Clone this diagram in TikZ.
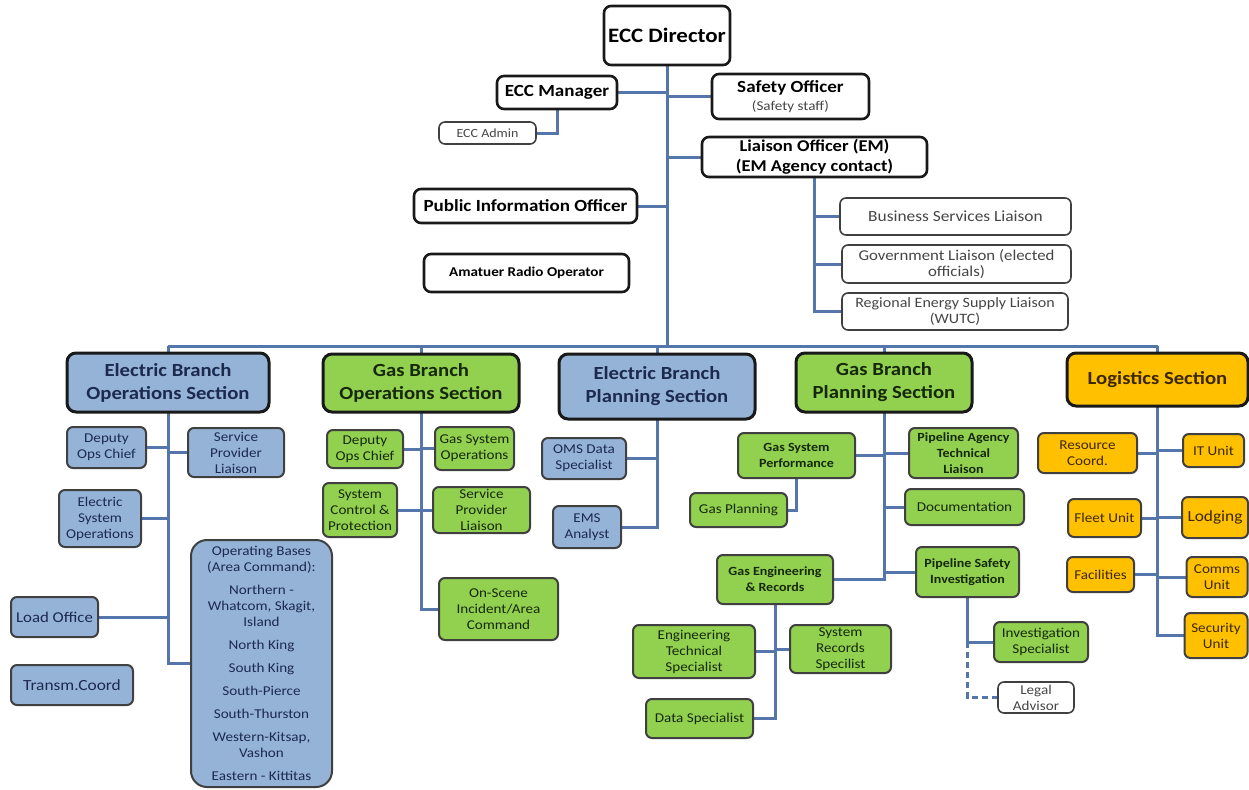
\documentclass[tikz,border=0pt]{standalone}
\usepackage{fontspec}
\setmainfont{Carlito}[FakeStretch=1.12]
\usetikzlibrary{backgrounds}
\definecolor{connc}{RGB}{84,118,170}
\definecolor{bluef}{RGB}{149,179,215}
\definecolor{greenf}{RGB}{146,208,80}
\definecolor{orangef}{RGB}{255,192,0}
\definecolor{bluet}{RGB}{28,42,78}
\definecolor{greent}{RGB}{22,40,10}
\definecolor{oranget}{RGB}{60,40,0}
\definecolor{grayt}{RGB}{70,70,70}
\newcommand{\myfs}[2]{\fontsize{#1}{#2}\selectfont}
\tikzset{
  conn/.style={draw=connc, line width=3},
  dashconn/.style={conn, dash pattern=on 6pt off 4pt},
  base/.style={align=center, inner sep=0pt, outer sep=0pt},
  topbox/.style={base, draw=black!90, line width=2.6, rounded corners=7, fill=white, text=black, font=\bfseries\myfs{17}{20}},
  lightbox/.style={base, draw=black!75, line width=1.6, rounded corners=6, fill=white, text=grayt, font=\myfs{14.5}{16}},
  secbox/.style={base, draw=black!90, line width=3, rounded corners=9, font=\bfseries\myfs{18.5}{23}},
  child/.style={base, draw=black!75, line width=2, rounded corners=6, font=\myfs{13.5}{16}},
  eblue/.style={fill=bluef, text=bluet},
  ggreen/.style={fill=greenf, text=greent},
  lorange/.style={fill=orangef, text=oranget},
  bchild/.style={child, font=\bfseries\myfs{12.5}{16}},
}
\begin{document}
\begin{tikzpicture}[x=1pt,y=-1pt]
\useasboundingbox (0,0) rectangle (1249,789);
% ---------- top level ----------
\node[topbox, minimum width=126, minimum height=59, font=\bfseries\myfs{20.5}{24}] (dir) at (667,35.5) {ECC Director};
\node[topbox, minimum width=120, minimum height=33] (mgr) at (557,92.5) {ECC Manager};
\node[lightbox, minimum width=97, minimum height=22, font=\myfs{12.5}{15}] (adm) at (487.5,133) {ECC Admin};
\node[topbox, minimum width=157, minimum height=45] (safety) at (790.5,96.5) {Safety Officer\\[-2pt]{\mdseries\color{grayt}\myfs{13.5}{15}(Safety staff)}};
\node[topbox, minimum width=225, minimum height=40, font=\bfseries\myfs{16.5}{20}] (liaison) at (814.5,157) {Liaison Officer (EM)\\(EM Agency contact)};
\node[topbox, minimum width=223, minimum height=34] (pio) at (525.5,206) {Public Information Officer};
\node[topbox, minimum width=205, minimum height=38, font=\bfseries\myfs{13.5}{16}] (ham) at (526.5,273) {Amatuer Radio Operator};
\node[lightbox, minimum width=231, minimum height=37, font=\myfs{15.5}{17}] (bsl) at (955.5,216.5) {Business Services Liaison};
\node[lightbox, minimum width=229, minimum height=38, font=\myfs{15}{16.5}] (gov) at (956.5,264) {Government Liaison (elected\\officials)};
\node[lightbox, minimum width=226, minimum height=37, font=\myfs{14.3}{16}] (reg) at (955,311.5) {Regional Energy Supply Liaison\\(WUTC)};
\coordinate (barL) at (168,346);
\coordinate (barR) at (1157.5,346);
% ---------- sections ----------
\node[secbox, eblue, minimum width=202, minimum height=59] (eops) at (168,382.5) {Electric Branch\\Operations Section};
\node[secbox, ggreen, minimum width=196, minimum height=58] (gops) at (421,383) {Gas Branch\\Operations Section};
\node[secbox, eblue, minimum width=196, minimum height=65] (eplan) at (657,386.5) {Electric Branch\\Planning Section};
\node[secbox, ggreen, minimum width=176, minimum height=59] (gplan) at (884,382.5) {Gas Branch\\Planning Section};
\node[secbox, lorange, minimum width=181, minimum height=53] (log) at (1157.5,379.5) {Logistics Section};
% ---------- electric operations ----------
\node[child, eblue, minimum width=79, minimum height=41] (edep) at (106.5,447.5) {Deputy\\Ops Chief};
\node[child, eblue, minimum width=96, minimum height=49] (espl) at (236,452.5) {Service\\Provider\\Liaison};
\node[child, eblue, minimum width=82, minimum height=57] (eso) at (100,518.5) {Electric\\System\\Operations};
\node[child, eblue, minimum width=141, minimum height=247, rounded corners=16] (ob) at (261.5,663.5) {Operating Bases\\(Area Command):\\[7pt]Northern -\\Whatcom, Skagit,\\Island\\[7pt]North King\\[7pt]South King\\[7pt]South-Pierce\\[7pt]South-Thurston\\[7pt]Western-Kitsap,\\Vashon\\[7pt]Eastern - Kittitas};
\node[child, eblue, minimum width=87, minimum height=40, font=\myfs{15}{17}] (load) at (54.5,617) {Load Office};
\node[child, eblue, minimum width=122, minimum height=40, font=\myfs{15.5}{18}] (trans) at (72,685) {Transm.Coord};
% ---------- gas operations ----------
\node[child, ggreen, minimum width=76, minimum height=38] (gdep) at (365,449) {Deputy\\Ops Chief};
\node[child, ggreen, minimum width=79, minimum height=43] (gso) at (474.5,448.5) {Gas System\\Operations};
\node[child, ggreen, minimum width=74, minimum height=54] (scp) at (360,510) {System\\Control \&\\Protection};
\node[child, ggreen, minimum width=97, minimum height=46] (gspl) at (481.5,510) {Service\\Provider\\Liaison};
\node[child, ggreen, minimum width=119, minimum height=62] (onscene) at (498.5,609) {On-Scene\\Incident/Area\\Command};
% ---------- electric planning ----------
\node[child, eblue, minimum width=84, minimum height=41] (oms) at (584,458.5) {OMS Data\\Specialist};
\node[child, eblue, minimum width=68, minimum height=42] (ems) at (587,527) {EMS\\Analyst};
% ---------- gas planning ----------
\node[bchild, ggreen, minimum width=117, minimum height=45] (gsp) at (796.5,455.5) {Gas System\\Performance};
\node[bchild, ggreen, minimum width=109, minimum height=50] (patl) at (963.5,453) {Pipeline Agency\\Technical\\Liaison};
\node[child, ggreen, minimum width=97, minimum height=34] (gpla) at (738.5,510) {Gas Planning};
\node[child, ggreen, minimum width=119, minimum height=36] (doc) at (964.5,507) {Documentation};
\node[bchild, ggreen, minimum width=116, minimum height=49] (ger) at (775,579.5) {Gas Engineering\\\& Records};
\node[bchild, ggreen, minimum width=103, minimum height=50] (psi) at (967.5,572) {Pipeline Safety\\Investigation};
\node[child, ggreen, minimum width=122, minimum height=53] (ets) at (694,651.5) {Engineering\\Technical\\Specialist};
\node[child, ggreen, minimum width=101, minimum height=48] (srs) at (840.5,649) {System\\Records\\Specilist};
\node[child, ggreen, minimum width=107, minimum height=39] (ds) at (699.5,718.5) {Data Specialist};
\node[child, ggreen, minimum width=94, minimum height=40] (inv) at (1041,642) {Investigation\\Specialist};
\node[lightbox, minimum width=76, minimum height=31, font=\myfs{13.5}{16}] (legal) at (1036,697.5) {Legal\\Advisor};
% ---------- logistics ----------
\node[child, lorange, minimum width=99, minimum height=40] (rc) at (1087.5,453) {Resource\\Coord.};
\node[child, lorange, minimum width=61, minimum height=33] (it) at (1213.5,450.5) {IT Unit};
\node[child, lorange, minimum width=73, minimum height=38] (fleet) at (1104.5,518) {Fleet Unit};
\node[child, lorange, minimum width=66, minimum height=41, font=\myfs{15.5}{18}] (lodg) at (1215,517.5) {Lodging};
\node[child, lorange, minimum width=67, minimum height=35] (fac) at (1100.5,574.5) {Facilities};
\node[child, lorange, minimum width=61, minimum height=40] (comms) at (1217,577) {Comms\\Unit};
\node[child, lorange, minimum width=63, minimum height=45] (sec) at (1216,635.5) {Security\\Unit};
% ---------- connectors ----------
\begin{scope}[on background layer]
\draw[conn] (dir.south) -- (dir.south |- barL);
\draw[conn] (barL) -- (barR);
\draw[conn] (mgr.east) -- (mgr.east -| dir.south);
\draw[conn] (mgr.south) -- (mgr.south |- adm.east) -- (adm.east);
\draw[conn] (safety.west) -- (safety.west -| dir.south);
\draw[conn] (liaison.west) -- (liaison.west -| dir.south);
\draw[conn] (pio.east) -- (pio.east -| dir.south);
\draw[conn] (liaison.south) -- (liaison.south |- reg.west) -- (reg.west);
\draw[conn] (bsl.west) -- (bsl.west -| liaison.south);
\draw[conn] (gov.west) -- (gov.west -| liaison.south);
% section drops
\draw[conn] (eops.north) -- (eops.north |- barL);
\draw[conn] (gops.north) -- (gops.north |- barL);
\draw[conn] (eplan.north) -- (eplan.north |- barL);
\draw[conn] (gplan.north) -- (gplan.north |- barL);
\draw[conn] (log.north) -- (log.north |- barL);
% electric operations
\draw[conn] (eops.south) -- (eops.south |- ob.west) -- (ob.west);
\draw[conn] (edep.east) -- (edep.east -| eops.south);
\draw[conn] (espl.west) -- (espl.west -| eops.south);
\draw[conn] (eso.east) -- (eso.east -| eops.south);
\draw[conn] (load.east) -- (load.east -| eops.south);
% gas operations
\draw[conn] (gops.south) -- (gops.south |- onscene.west) -- (onscene.west);
\draw[conn] (gdep.east) -- (gdep.east -| gops.south);
\draw[conn] (gso.west) -- (gso.west -| gops.south);
\draw[conn] (scp.east) -- (scp.east -| gops.south);
\draw[conn] (gspl.west) -- (gspl.west -| gops.south);
% electric planning
\draw[conn] (eplan.south) -- (eplan.south |- ems.east) -- (ems.east);
\draw[conn] (oms.east) -- (oms.east -| eplan.south);
% gas planning
\draw[conn] (gplan.south) -- (gplan.south |- ger.east) -- (ger.east);
\draw[conn] (gsp.east) -- (gsp.east -| gplan.south);
\draw[conn] (patl.west) -- (patl.west -| gplan.south);
\draw[conn] (doc.west) -- (doc.west -| gplan.south);
\draw[conn] (psi.west) -- (psi.west -| gplan.south);
\draw[conn] (gsp.south) -- (gsp.south |- gpla.east) -- (gpla.east);
\draw[conn] (ger.south) -- (ger.south |- ds.east) -- (ds.east);
\draw[conn] (ets.east) -- (ets.east -| ger.south);
\draw[conn] (srs.west) -- (srs.west -| ger.south);
\draw[conn] (psi.south) -- (psi.south |- inv.west) -- (inv.west);
\draw[dashconn] (psi.south |- inv.west) -- (psi.south |- legal.west) -- (legal.west);
% logistics
\draw[conn] (log.south) -- (log.south |- sec.west) -- (sec.west);
\draw[conn] (rc.east) -- (rc.east -| log.south);
\draw[conn] (it.west) -- (it.west -| log.south);
\draw[conn] (fleet.east) -- (fleet.east -| log.south);
\draw[conn] (lodg.west) -- (lodg.west -| log.south);
\draw[conn] (fac.east) -- (fac.east -| log.south);
\draw[conn] (comms.west) -- (comms.west -| log.south);
\end{scope}
\end{tikzpicture}
\end{document}
